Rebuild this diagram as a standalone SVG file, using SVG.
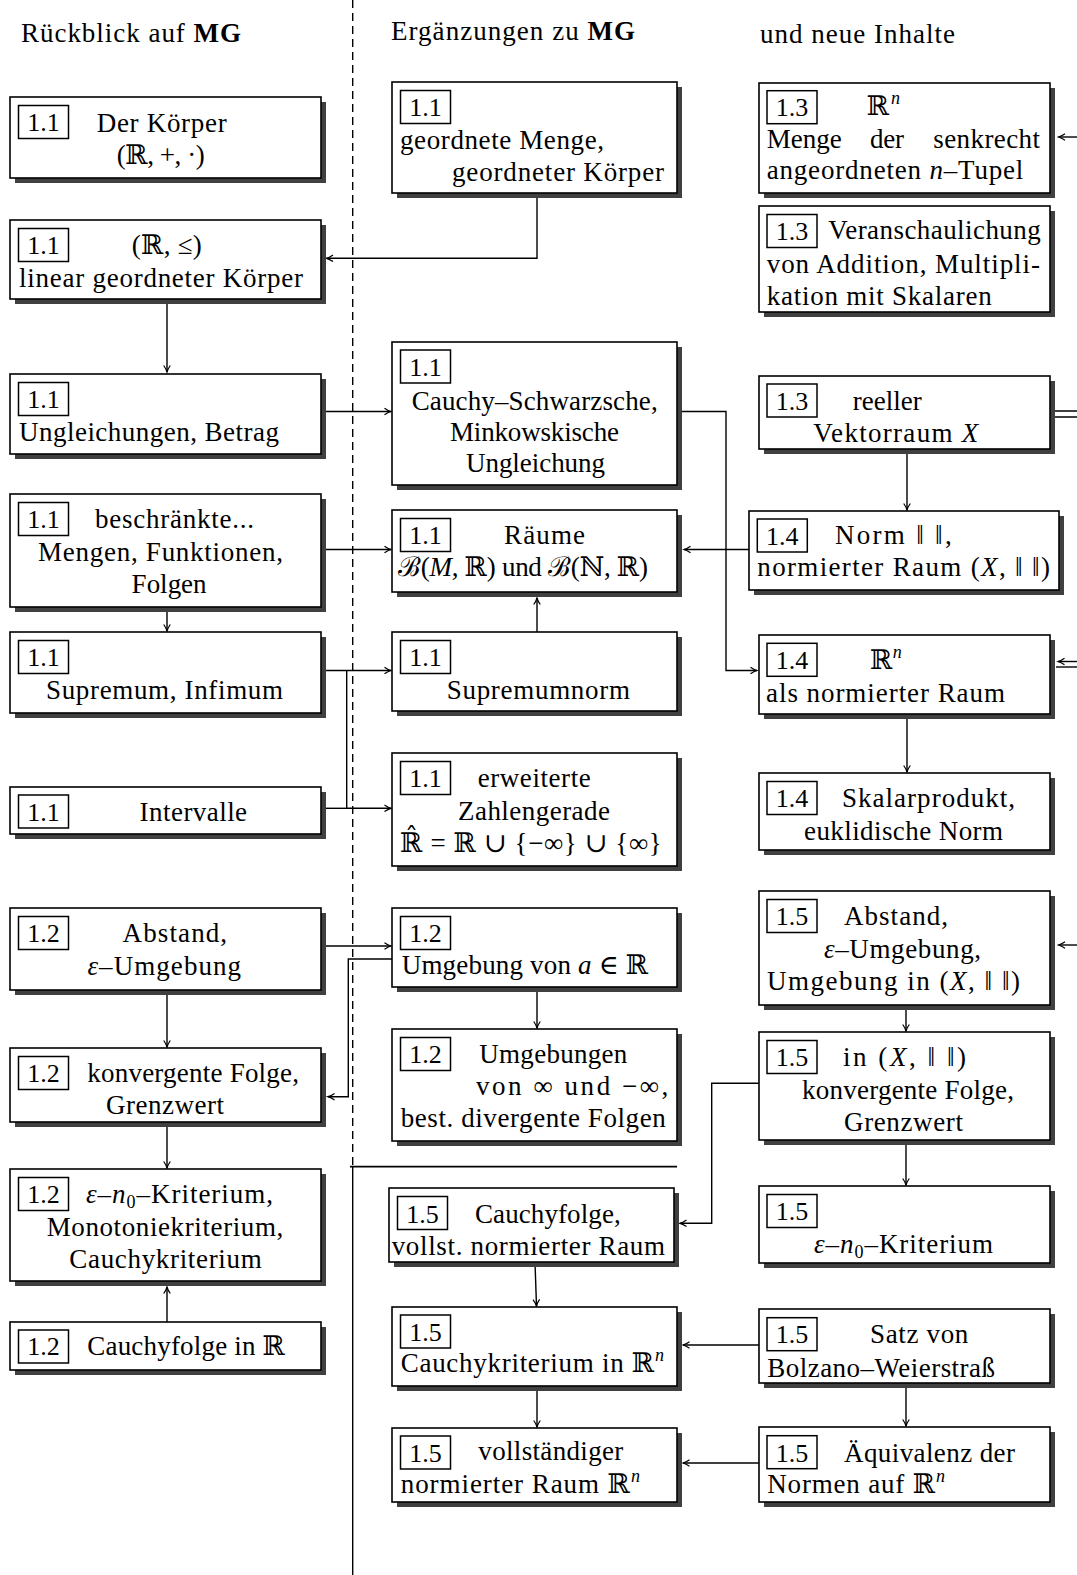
<svg xmlns="http://www.w3.org/2000/svg" width="1077" height="1575" viewBox="0 0 1077 1575">
<style>
.sh{fill:#404040}
.bx{fill:#fff;stroke:#000;stroke-width:1.6}
.lb{fill:none;stroke:#000;stroke-width:1.5}
text{font-family:"Liberation Serif","DejaVu Serif",serif;font-size:27px;fill:#000}
.lt{text-anchor:middle;font-size:26px}
.i{font-style:italic}
.c{fill:none;stroke:#000;stroke-width:1.4}
.ar{marker-end:url(#ah)}
</style>
<defs>
<marker id="ah" viewBox="-8 -5 10 10" refX="0" refY="0" markerWidth="10" markerHeight="10" markerUnits="userSpaceOnUse" orient="auto">
<path d="M-6.5,-3.3 C-4,-1.5 -1.5,-0.4 0,0 C-1.5,0.4 -4,1.5 -6.5,3.3" fill="none" stroke="#000" stroke-width="1.2"/>
</marker>
</defs>
<rect width="1077" height="1575" fill="#fff"/>

<g id="headers">
<text x="21" y="42" textLength="220">Rückblick auf <tspan font-weight="bold">MG</tspan></text>
<text x="391" y="40" textLength="244">Ergänzungen zu <tspan font-weight="bold">MG</tspan></text>
<text x="760" y="42.5" textLength="195">und neue Inhalte</text>
</g>

<g id="dividers">
<line x1="352.7" y1="0" x2="352.7" y2="1166" stroke="#000" stroke-width="1.4" stroke-dasharray="8 5"/>
<line x1="352.7" y1="1167" x2="352.7" y2="1575" stroke="#000" stroke-width="1.4"/>
<line x1="350" y1="1166.7" x2="677" y2="1166.7" stroke="#000" stroke-width="1.7"/>
</g>

<g id="connectors">
<path class="c ar" d="M537,193 V258.3 H326.5"/>
<path class="c ar" d="M167,299 V372"/>
<path class="c ar" d="M326,411.5 H391"/>
<path class="c ar" d="M677,411.5 H726 V670.5 H757"/>
<path class="c ar" d="M326,549.5 H391"/>
<path class="c ar" d="M749,549.5 H684"/>
<path class="c ar" d="M167,607 V631"/>
<path class="c ar" d="M537,632 V598"/>
<path class="c ar" d="M326,670.5 H391"/>
<path class="c ar" d="M346.7,670.5 V808.3 H391"/>
<path class="c" d="M326,808.3 H346.7"/>
<path class="c ar" d="M907,449 V510"/>
<path class="c ar" d="M907,714 V772"/>
<path class="c ar" d="M326,946 H391"/>
<path class="c ar" d="M392,959 H348.3 V1096.7 H328"/>
<path class="c ar" d="M167,990 V1047"/>
<path class="c ar" d="M167,1122 V1168"/>
<path class="c ar" d="M167,1322 V1287"/>
<path class="c ar" d="M537,987 V1028"/>
<path class="c ar" d="M759,1083.3 H711.7 V1223.3 H680"/>
<path class="c ar" d="M535,1262 L536.5,1306"/>
<path class="c ar" d="M537,1386 V1427"/>
<path class="c ar" d="M759,1345 H683"/>
<path class="c ar" d="M759,1463 H683"/>
<path class="c ar" d="M906,1383 V1426"/>
<path class="c ar" d="M906,1005 V1031"/>
<path class="c ar" d="M906,1140 V1185"/>
<path class="c ar" d="M1077,137 H1058.5"/>
<path class="c" d="M1055,411 H1077 M1055,417 H1077"/>
<path class="c ar" d="M1077,661.5 H1058"/>
<path class="c" d="M1077,667 H1056"/>
<path class="c ar" d="M1077,945 H1058.5"/>
</g>

<!-- Left column -->
<g id="n1">
<rect class="sh" x="15" y="102" width="311" height="81"/><rect class="bx" x="10" y="97" width="311" height="81"/>
<rect class="lb" x="18.5" y="105.5" width="50" height="33"/><text class="lt" x="43.5" y="131">1.1</text>
<text x="96.7" y="131.7" textLength="130">Der Körper</text>
<text x="116.7" y="164" textLength="88">(ℝ, +, ·)</text>
</g>
<g id="n2">
<rect class="sh" x="15" y="225" width="311" height="79"/><rect class="bx" x="10" y="220" width="311" height="79"/>
<rect class="lb" x="18.5" y="228.5" width="50" height="33"/><text class="lt" x="43.5" y="254">1.1</text>
<text x="131.7" y="254" textLength="70">(ℝ, ≤)</text>
<text x="19" y="286.5" textLength="284">linear geordneter Körper</text>
</g>
<g id="n3">
<rect class="sh" x="15" y="379" width="311" height="80"/><rect class="bx" x="10" y="374" width="311" height="80"/>
<rect class="lb" x="18.5" y="382.5" width="50" height="33"/><text class="lt" x="43.5" y="408">1.1</text>
<text x="19" y="440.5" textLength="260">Ungleichungen, Betrag</text>
</g>
<g id="n4">
<rect class="sh" x="15" y="499" width="311" height="113"/><rect class="bx" x="10" y="494" width="311" height="113"/>
<rect class="lb" x="18.5" y="502.5" width="50" height="33"/><text class="lt" x="43.5" y="528">1.1</text>
<text x="95" y="528" textLength="159">beschränkte...</text>
<text x="38" y="560.5" textLength="245">Mengen, Funktionen,</text>
<text x="131.6" y="593" textLength="75">Folgen</text>
</g>
<g id="n5">
<rect class="sh" x="15" y="637" width="311" height="81"/><rect class="bx" x="10" y="632" width="311" height="81"/>
<rect class="lb" x="18.5" y="640.5" width="50" height="33"/><text class="lt" x="43.5" y="666">1.1</text>
<text x="46" y="698.5" textLength="237">Supremum, Infimum</text>
</g>
<g id="n6">
<rect class="sh" x="15" y="792" width="311" height="47"/><rect class="bx" x="10" y="787" width="311" height="47"/>
<rect class="lb" x="18.5" y="795" width="50" height="33"/><text class="lt" x="43.5" y="820.5">1.1</text>
<text x="139.6" y="820.5" textLength="107.5">Intervalle</text>
</g>
<g id="n7">
<rect class="sh" x="15" y="913" width="311" height="82"/><rect class="bx" x="10" y="908" width="311" height="82"/>
<rect class="lb" x="18.5" y="916.5" width="50" height="33"/><text class="lt" x="43.5" y="942">1.2</text>
<text x="122.6" y="942" textLength="104.5">Abstand,</text>
<text x="87.4" y="974.5" textLength="153.7"><tspan class="i">ε</tspan>–Umgebung</text>
</g>
<g id="n8">
<rect class="sh" x="15" y="1053" width="311" height="74"/><rect class="bx" x="10" y="1048" width="311" height="74"/>
<rect class="lb" x="18.5" y="1056.5" width="50" height="33"/><text class="lt" x="43.5" y="1081.7">1.2</text>
<text x="87.3" y="1081.7" textLength="211.7">konvergente Folge,</text>
<text x="106" y="1114.3" textLength="118">Grenzwert</text>
</g>
<g id="n9">
<rect class="sh" x="15" y="1174" width="311" height="112"/><rect class="bx" x="10" y="1169" width="311" height="112"/>
<rect class="lb" x="18.5" y="1177.5" width="50" height="33"/><text class="lt" x="43.5" y="1202.7">1.2</text>
<text x="86" y="1202.7" textLength="187"><tspan class="i">ε</tspan>–<tspan class="i">n</tspan><tspan font-size="18" dy="5">0</tspan><tspan dy="-5">–Kriterium,</tspan></text>
<text x="46.7" y="1236" textLength="236.6">Monotoniekriterium,</text>
<text x="69.3" y="1268.3" textLength="192.4">Cauchykriterium</text>
</g>
<g id="n10">
<rect class="sh" x="15" y="1327" width="311" height="48"/><rect class="bx" x="10" y="1322" width="311" height="48"/>
<rect class="lb" x="18.5" y="1330" width="50" height="33"/><text class="lt" x="43.5" y="1355">1.2</text>
<text x="87.3" y="1355" textLength="197.7">Cauchyfolge in ℝ</text>
</g>

<!-- Middle column -->
<g id="m1">
<rect class="sh" x="397" y="87" width="285" height="111"/><rect class="bx" x="392" y="82" width="285" height="111"/>
<rect class="lb" x="400.5" y="90.5" width="50" height="33"/><text class="lt" x="425.5" y="116">1.1</text>
<text x="400" y="148.5" textLength="204">geordnete Menge,</text>
<text x="452" y="181" textLength="212">geordneter Körper</text>
</g>
<g id="m2">
<rect class="sh" x="397" y="347" width="285" height="143"/><rect class="bx" x="392" y="342" width="285" height="143"/>
<rect class="lb" x="400.5" y="350" width="50" height="33"/><text class="lt" x="425.5" y="375.5">1.1</text>
<text x="411.7" y="410" textLength="246">Cauchy–Schwarzsche,</text>
<text x="450" y="441" textLength="169">Minkowskische</text>
<text x="466" y="472" textLength="139">Ungleichung</text>
</g>
<g id="m3">
<rect class="sh" x="397" y="515" width="285" height="82"/><rect class="bx" x="392" y="510" width="285" height="82"/>
<rect class="lb" x="400.5" y="518.5" width="50" height="33"/><text class="lt" x="425.5" y="544">1.1</text>
<text x="504" y="543.5" textLength="81">Räume</text>
<text x="398" y="576" textLength="250">ℬ(<tspan class="i">M</tspan>, ℝ) und ℬ(ℕ, ℝ)</text>
</g>
<g id="m4">
<rect class="sh" x="397" y="637" width="285" height="79"/><rect class="bx" x="392" y="632" width="285" height="79"/>
<rect class="lb" x="400.5" y="640.5" width="50" height="33"/><text class="lt" x="425.5" y="666">1.1</text>
<text x="446.7" y="699" textLength="183.3">Supremumnorm</text>
</g>
<g id="m5">
<rect class="sh" x="397" y="758" width="285" height="113"/><rect class="bx" x="392" y="753" width="285" height="113"/>
<rect class="lb" x="400.5" y="761.5" width="50" height="33"/><text class="lt" x="425.5" y="786.7">1.1</text>
<text x="477.7" y="786.7" textLength="113">erweiterte</text>
<text x="458" y="820" textLength="152">Zahlengerade</text>
<text x="400" y="851.7" textLength="261.7">ℝ̂ = ℝ ∪ {−∞} ∪ {∞}</text>
</g>
<g id="m6">
<rect class="sh" x="397" y="913" width="285" height="79"/><rect class="bx" x="392" y="908" width="285" height="79"/>
<rect class="lb" x="400.5" y="916.5" width="50" height="33"/><text class="lt" x="425.5" y="942">1.2</text>
<text x="401.7" y="974.3" textLength="246.6">Umgebung von <tspan class="i">a</tspan> ∈ ℝ</text>
</g>
<g id="m7">
<rect class="sh" x="397" y="1034" width="285" height="112"/><rect class="bx" x="392" y="1029" width="285" height="112"/>
<rect class="lb" x="400.5" y="1037.5" width="50" height="33"/><text class="lt" x="425.5" y="1062.7">1.2</text>
<text x="479.3" y="1062.7" textLength="148">Umgebungen</text>
<text x="476" y="1095" textLength="192.3">von ∞ und −∞,</text>
<text x="400.7" y="1127.3" textLength="265">best. divergente Folgen</text>
</g>
<g id="m8">
<rect class="sh" x="394" y="1193" width="285" height="74"/><rect class="bx" x="389" y="1188" width="285" height="74"/>
<rect class="lb" x="397.5" y="1196.5" width="50" height="33"/><text class="lt" x="422.5" y="1222.7">1.5</text>
<text x="475" y="1222.7" textLength="145.7">Cauchyfolge,</text>
<text x="391.7" y="1255" textLength="273.3">vollst. normierter Raum</text>
</g>
<g id="m9">
<rect class="sh" x="397" y="1312" width="285" height="79"/><rect class="bx" x="392" y="1307" width="285" height="79"/>
<rect class="lb" x="400.5" y="1315" width="50" height="33"/><text class="lt" x="425.5" y="1340.5">1.5</text>
<text x="400.7" y="1372.3" textLength="263.3">Cauchykriterium in ℝ<tspan class="i" font-size="18" dy="-11">n</tspan></text>
</g>
<g id="m10">
<rect class="sh" x="397" y="1433" width="285" height="74"/><rect class="bx" x="392" y="1428" width="285" height="74"/>
<rect class="lb" x="400.5" y="1436" width="50" height="33"/><text class="lt" x="425.5" y="1461.5">1.5</text>
<text x="478.3" y="1460" textLength="145">vollständiger</text>
<text x="400.7" y="1493.3" textLength="239.3">normierter Raum ℝ<tspan class="i" font-size="18" dy="-11">n</tspan></text>
</g>

<!-- Right column -->
<g id="r1">
<rect class="sh" x="764" y="88" width="291" height="110"/><rect class="bx" x="759" y="83" width="291" height="110"/>
<rect class="lb" x="767" y="90.7" width="50" height="33"/><text class="lt" x="792" y="116">1.3</text>
<text x="866.7" y="115" textLength="33.3">ℝ<tspan class="i" font-size="18" dy="-11">n</tspan></text>
<text x="766.7" y="148.3" textLength="75">Menge</text>
<text x="870" y="148.3" textLength="34">der</text>
<text x="933.3" y="148.3" textLength="106.7">senkrecht</text>
<text x="766.7" y="179.3" textLength="256.6">angeordneten <tspan class="i">n</tspan>–Tupel</text>
</g>
<g id="r2">
<rect class="sh" x="764" y="211" width="291" height="106"/><rect class="bx" x="759" y="206" width="291" height="106"/>
<rect class="lb" x="767" y="214.5" width="50" height="33"/><text class="lt" x="792" y="240">1.3</text>
<text x="828.3" y="239.3" textLength="212.4">Veranschaulichung</text>
<text x="766.7" y="272.7" textLength="273.3">von Addition, Multipli-</text>
<text x="766.7" y="305" textLength="225">kation mit Skalaren</text>
</g>
<g id="r3">
<rect class="sh" x="764" y="381" width="291" height="73"/><rect class="bx" x="759" y="376" width="291" height="73"/>
<rect class="lb" x="767" y="384" width="50" height="33"/><text class="lt" x="792" y="409.5">1.3</text>
<text x="852.7" y="410" textLength="69">reeller</text>
<text x="813.3" y="441.7" textLength="165">Vektorraum <tspan class="i">X</tspan></text>
</g>
<g id="r4">
<rect class="sh" x="754" y="516" width="310" height="79"/><rect class="bx" x="749" y="511" width="310" height="79"/>
<rect class="lb" x="757.3" y="519" width="50" height="33"/><text class="lt" x="782.3" y="544.5">1.4</text>
<text x="835" y="544" textLength="116.7">Norm ‖ ‖,</text>
<text x="757.3" y="576" textLength="292.7">normierter Raum (<tspan class="i">X</tspan>, ‖ ‖)</text>
</g>
<g id="r5">
<rect class="sh" x="764" y="640" width="291" height="79"/><rect class="bx" x="759" y="635" width="291" height="79"/>
<rect class="lb" x="767" y="643.3" width="50" height="33"/><text class="lt" x="792" y="669">1.4</text>
<text x="870" y="669" textLength="31.7">ℝ<tspan class="i" font-size="18" dy="-11">n</tspan></text>
<text x="766" y="701.5" textLength="239">als normierter Raum</text>
</g>
<g id="r6">
<rect class="sh" x="764" y="778" width="291" height="77"/><rect class="bx" x="759" y="773" width="291" height="77"/>
<rect class="lb" x="767" y="781.5" width="50" height="33"/><text class="lt" x="792" y="807">1.4</text>
<text x="842" y="807" textLength="173">Skalarprodukt,</text>
<text x="804" y="839.5" textLength="199">euklidische Norm</text>
</g>
<g id="r7">
<rect class="sh" x="764" y="896" width="291" height="114"/><rect class="bx" x="759" y="891" width="291" height="114"/>
<rect class="lb" x="767" y="899.5" width="50" height="33"/><text class="lt" x="792" y="925">1.5</text>
<text x="844" y="925" textLength="104">Abstand,</text>
<text x="824" y="957.5" textLength="157"><tspan class="i">ε</tspan>–Umgebung,</text>
<text x="767" y="990" textLength="253">Umgebung in (<tspan class="i">X</tspan>, ‖ ‖)</text>
</g>
<g id="r8">
<rect class="sh" x="764" y="1037" width="291" height="108"/><rect class="bx" x="759" y="1032" width="291" height="108"/>
<rect class="lb" x="767" y="1040.5" width="50" height="33"/><text class="lt" x="792" y="1066">1.5</text>
<text x="843" y="1066" textLength="123">in (<tspan class="i">X</tspan>, ‖ ‖)</text>
<text x="802" y="1098.5" textLength="212">konvergente Folge,</text>
<text x="844" y="1131" textLength="119">Grenzwert</text>
</g>
<g id="r9">
<rect class="sh" x="764" y="1191" width="291" height="77"/><rect class="bx" x="759" y="1186" width="291" height="77"/>
<rect class="lb" x="767" y="1194.5" width="50" height="33"/><text class="lt" x="792" y="1220">1.5</text>
<text x="814" y="1252.5" textLength="179"><tspan class="i">ε</tspan>–<tspan class="i">n</tspan><tspan font-size="18" dy="5">0</tspan><tspan dy="-5">–Kriterium</tspan></text>
</g>
<g id="r10">
<rect class="sh" x="764" y="1314" width="291" height="74"/><rect class="bx" x="759" y="1309" width="291" height="74"/>
<rect class="lb" x="767" y="1317.7" width="50" height="33"/><text class="lt" x="792" y="1343.3">1.5</text>
<text x="870" y="1343.3" textLength="98.3">Satz von</text>
<text x="767.3" y="1376.7" textLength="227.7">Bolzano–Weierstraß</text>
</g>
<g id="r11">
<rect class="sh" x="764" y="1432" width="291" height="75"/><rect class="bx" x="759" y="1427" width="291" height="75"/>
<rect class="lb" x="767" y="1435.7" width="50" height="33"/><text class="lt" x="792" y="1461.7">1.5</text>
<text x="844" y="1461.7" textLength="171">Äquivalenz der</text>
<text x="767.3" y="1493.3" textLength="177.7">Normen auf ℝ<tspan class="i" font-size="18" dy="-11">n</tspan></text>
</g>
</svg>
